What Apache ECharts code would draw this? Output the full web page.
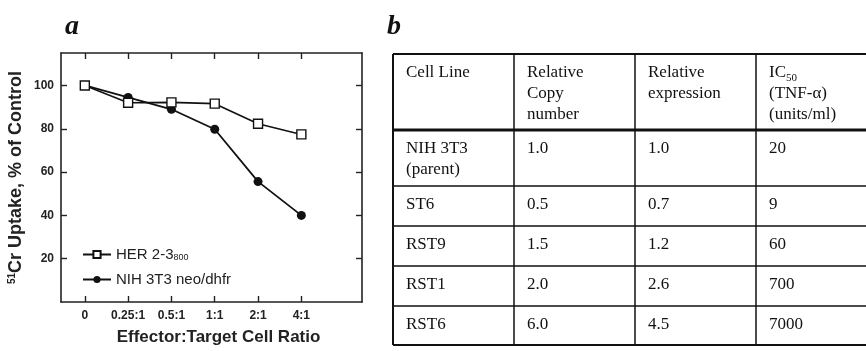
<!DOCTYPE html>
<html>
<head>
<meta charset="utf-8">
<script src="https://cdn.jsdelivr.net/npm/echarts@6/dist/echarts.min.js"></script>
<style>
html, body { margin: 0; padding: 0; background: #fff; }
#chart { width: 866px; height: 351px; }
</style>
</head>
<body>
<div id="chart"></div>
<script>
// panel a: 51Cr uptake vs effector:target ratio
var ratios = ['0', '0.25:1', '0.5:1', '1:1', '2:1', '4:1'];
var her23 = [100, 92, 92.2, 91.6, 82.3, 77.4];
var nihNeo = [100, 94.5, 89, 79.8, 55.6, 40];
var yTicks = [20, 40, 60, 80, 100];

// panel b: table
var tableHead = ['Cell Line', 'Relative\nCopy\nnumber', 'Relative\nexpression',
    '{n|IC}{s|50}\n{n|(TNF-α)}\n{n|(units/ml)}'];
var cellLines = ['NIH 3T3\n(parent)', 'ST6', 'RST9', 'RST1', 'RST6'];
var copyNumber = ['1.0', '0.5', '1.5', '2.0', '6.0'];
var expression = ['1.0', '0.7', '1.2', '2.6', '4.5'];
var ic50 = ['20', '9', '60', '700', '7000'];

var sans = "'Liberation Sans', Arial, sans-serif";
var serif = "'Liberation Serif', 'Times New Roman', serif";
var tickIdx = ratios.map(function (r, i) { return i; });

function pairs(arr) {
    return arr.map(function (v, i) { return [i, v]; });
}

// table graphic
var colX = [393, 514, 635, 756, 880];
var rowY = [54, 130, 186, 226, 266, 306, 345];
var table = [];
for (var r = 0; r < rowY.length; ++r) {
    var w = 1.5;
    if (r == 1) w = 2.8;
    if (r == 0 || r == rowY.length - 1) w = 2;
    table.push({
        type: 'line', silent: true,
        shape: {x1: colX[0], y1: rowY[r], x2: colX[colX.length - 1], y2: rowY[r]},
        style: {stroke: '#111', lineWidth: w}
    });
}
for (var c = 0; c < colX.length; ++c) {
    table.push({
        type: 'line', silent: true,
        shape: {x1: colX[c], y1: rowY[0], x2: colX[c], y2: rowY[rowY.length - 1]},
        style: {stroke: '#111', lineWidth: c == 0 ? 2 : 1.5}
    });
}
var rows = [tableHead];
for (var i = 0; i < cellLines.length; ++i) {
    rows.push([cellLines[i], copyNumber[i], expression[i], ic50[i]]);
}
for (var r = 0; r < rows.length; ++r) {
    for (var c = 0; c < 4; ++c) {
        table.push({
            type: 'text', silent: true,
            style: {
                x: colX[c] + 13, y: rowY[r] + 8.5,
                text: rows[r][c],
                fill: '#111',
                font: '17px ' + serif,
                lineHeight: 21,
                align: 'left', verticalAlign: 'top',
                rich: {
                    n: {fontSize: 17, fontFamily: serif, lineHeight: 21},
                    s: {fontSize: 11, fontFamily: serif, lineHeight: 12, verticalAlign: 'bottom'}
                }
            }
        });
    }
}

var chart = echarts.init(document.getElementById('chart'));

var axisLine = {show: true, onZero: false, lineStyle: {color: '#222', width: 1.6}};
var tickStyle = {color: '#222', width: 1.4};

var option = {
    animation: false,
    title: [
        {text: 'a', left: 60, top: 8, textStyle: {fontFamily: serif, fontStyle: 'italic', fontWeight: 'bold', fontSize: 28, color: '#111'}},
        {text: 'b', left: 382, top: 8, textStyle: {fontFamily: serif, fontStyle: 'italic', fontWeight: 'bold', fontSize: 28, color: '#111'}}
    ],
    grid: {left: 61, right: 504, top: 53, bottom: 44},
    legend: {
        left: 82, top: 247,
        orient: 'vertical',
        itemGap: 10,
        itemWidth: 28, itemHeight: 9,
        padding: 0,
        data: ['HER 2-3', 'NIH 3T3 neo/dhfr'],
        formatter: function (name) {
            return name == 'HER 2-3' ? 'HER 2-3{s|800}' : name;
        },
        textStyle: {
            fontFamily: sans, fontSize: 15, color: '#222',
            rich: {s: {fontFamily: sans, fontSize: 9, color: '#222', verticalAlign: 'bottom', lineHeight: 10}}
        }
    },
    xAxis: [{
        type: 'value', min: -0.55, max: 6.4, position: 'bottom',
        axisLine: axisLine,
        axisTick: {show: true, inside: true, length: 6, customValues: tickIdx, lineStyle: tickStyle},
        axisLabel: {
            customValues: tickIdx, margin: 8,
            formatter: function (v) { return ratios[v]; },
            fontFamily: sans, fontWeight: 'bold', fontSize: 12, color: '#222'
        },
        splitLine: {show: false},
        name: 'Effector:Target Cell Ratio',
        nameLocation: 'middle', nameGap: 27,
        nameTextStyle: {fontFamily: sans, fontWeight: 'bold', fontSize: 17, color: '#222', padding: [0, 0, 0, 14]}
    }, {
        type: 'value', min: -0.55, max: 6.4, position: 'top',
        axisLine: axisLine,
        axisTick: {show: true, inside: true, length: 6, customValues: tickIdx, lineStyle: tickStyle},
        axisLabel: {show: false},
        splitLine: {show: false}
    }],
    yAxis: [{
        type: 'value', min: 0, max: 115, position: 'left',
        axisLine: axisLine,
        axisTick: {show: true, inside: true, length: 6, customValues: yTicks, lineStyle: tickStyle},
        axisLabel: {customValues: yTicks, margin: 7, fontFamily: sans, fontWeight: 'bold', fontSize: 12, color: '#222'},
        splitLine: {show: false},
        name: '{p|51}Cr Uptake, % of Control',
        nameLocation: 'middle', nameGap: 36,
        nameTextStyle: {
            fontFamily: sans, fontWeight: 'bold', fontSize: 18, color: '#222',
            rich: {p: {fontFamily: sans, fontWeight: 'bold', fontSize: 10, color: '#222', verticalAlign: 'top', lineHeight: 12}}
        }
    }, {
        type: 'value', min: 0, max: 115, position: 'right',
        axisLine: axisLine,
        axisTick: {show: true, inside: true, length: 6, customValues: yTicks, lineStyle: tickStyle},
        axisLabel: {show: false},
        splitLine: {show: false}
    }],
    series: [{
        name: 'NIH 3T3 neo/dhfr',
        type: 'line',
        data: pairs(nihNeo),
        symbol: 'circle', symbolSize: 9,
        lineStyle: {color: '#111', width: 1.8},
        itemStyle: {color: '#111'}
    }, {
        name: 'HER 2-3',
        type: 'line',
        data: pairs(her23),
        symbol: 'rect', symbolSize: 9,
        lineStyle: {color: '#111', width: 1.6},
        itemStyle: {color: '#fff', borderColor: '#111', borderWidth: 1.4}
    }],
    graphic: table
};
chart.setOption(option);
</script>
</body>
</html>
